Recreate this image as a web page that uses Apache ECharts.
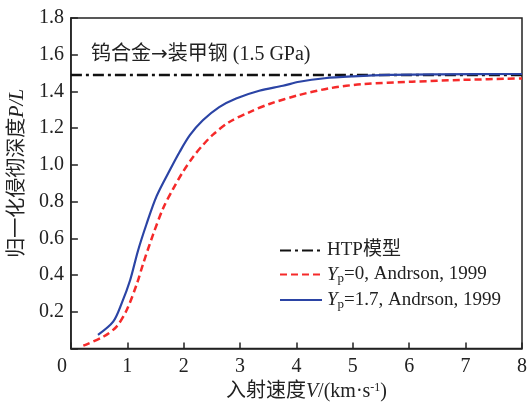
<!DOCTYPE html>
<html>
<head>
<meta charset="utf-8">
<script src="https://cdn.jsdelivr.net/npm/echarts@6/dist/echarts.min.js"></script>
<style>
  html, body { margin: 0; padding: 0; background: #fff; }
  #chart { width: 530px; height: 407px; }
</style>
</head>
<body>
<div id="chart"></div>
<script>
// Impact velocity (km/s) and normalised penetration depth P/L
const htpVel = [0, 8];
const htpDepth = [1.49, 1.49];

const yp0Vel = [0.22, 0.58, 0.81, 0.99, 1.17, 1.28, 1.46, 1.64, 1.81, 1.99, 2.17, 2.34, 2.52, 2.81, 3.17, 3.52, 4.05, 4.6, 5.17, 6.05, 6.94, 8.0];
const yp0Depth = [0.016, 0.066, 0.12, 0.21, 0.353, 0.461, 0.623, 0.767, 0.868, 0.964, 1.045, 1.108, 1.165, 1.234, 1.288, 1.332, 1.381, 1.418, 1.44, 1.453, 1.463, 1.471];

const yp17Vel = [0.48, 0.75, 0.90, 1.05, 1.19, 1.34, 1.52, 1.76, 1.93, 2.11, 2.34, 2.63, 2.93, 3.34, 3.76, 4.05, 4.5, 5.0, 5.64, 6.5, 8.0];
const yp17Depth = [0.075, 0.147, 0.246, 0.372, 0.533, 0.677, 0.83, 0.975, 1.072, 1.162, 1.243, 1.315, 1.362, 1.404, 1.431, 1.453, 1.472, 1.482, 1.49, 1.493, 1.495];

const xTicks = [0, 1, 2, 3, 4, 5, 6, 7, 8];
const yTicks = [0, 0.2, 0.4, 0.6, 0.8, 1.0, 1.2, 1.4, 1.6, 1.8];

const seriesNames = ['HTP模型', 'Yp=0, Andrson, 1999', 'Yp=1.7, Andrson, 1999'];
const titleParts = ['钨合金', '→', '装甲钢 (1.5 GPa)'];

const FONT = '"Liberation Serif", "Times New Roman", "Noto Sans CJK SC", serif';
const FS = 20;
const LFS = 19;
const INK = '#222';

function pairs(xs, ys) { return xs.map((x, i) => [x, ys[i]]); }

const chart = echarts.init(document.getElementById('chart'));
chart.setOption({
  animation: false,
  backgroundColor: '#fff',
  title: {
    text: titleParts[0] + '{a|' + titleParts[1] + '}' + titleParts[2],
    left: 86,
    top: 40,
    textStyle: {
      fontFamily: FONT, fontSize: FS, fontWeight: 'normal', color: INK,
      rich: { a: { fontFamily: '"DejaVu Sans", sans-serif', fontSize: FS, color: INK } }
    }
  },
  legend: {
    orient: 'vertical',
    left: 274,
    top: 236,
    itemWidth: 42,
    itemHeight: 14,
    itemGap: 5,
    itemStyle: { opacity: 0 },
    textStyle: {
      fontFamily: FONT, fontSize: LFS, color: INK,
      rich: {
        i: { fontFamily: FONT, fontSize: LFS, fontStyle: 'italic', color: INK },
        sub: { fontFamily: FONT, fontSize: 13, color: INK, verticalAlign: 'bottom', padding: [9, 0, 0, 0] },
        t: { fontFamily: FONT, fontSize: LFS, color: INK }
      }
    },
    formatter: function (name) {
      if (name.indexOf('Yp=') === 0) {
        return '{i|Y}{sub|p}{t|' + name.slice(2) + '}';
      }
      return name;
    },
    data: seriesNames
  },
  grid: {
    left: 70.7, right: 6.5, top: 18, bottom: 54.7,
    show: true, borderColor: INK, borderWidth: 1.5, containLabel: false
  },
  xAxis: {
    type: 'value',
    min: 0, max: 8, interval: 1,
    name: '入射速度{i|V}/(km·s{sup|-1})',
    nameLocation: 'middle',
    nameGap: 30,
    nameTextStyle: {
      fontFamily: FONT, fontSize: FS, color: INK, padding: [0, 0, 0, 20],
      rich: {
        i: { fontFamily: FONT, fontSize: FS, fontStyle: 'italic', color: INK },
        sup: { fontFamily: FONT, fontSize: 12, color: INK, verticalAlign: 'top', padding: [0, 0, 9, 0] }
      }
    },
    axisLine: { show: true, lineStyle: { color: INK, width: 1.5 } },
    axisTick: { show: true, inside: true, length: 6, lineStyle: { color: INK, width: 1.5 } },
    axisLabel: {
      fontFamily: FONT, fontSize: FS, color: INK, margin: 8,
      formatter: function (v) { return v === 0 ? '{z|0}' : String(v); },
      rich: { z: { fontFamily: FONT, fontSize: FS, color: INK, padding: [0, 18, 0, 0] } }
    },
    splitLine: { show: false }
  },
  yAxis: {
    type: 'value',
    min: 0, max: 1.8, interval: 0.2,
    name: '归一化侵彻深度{i|P/L}',
    nameLocation: 'middle',
    nameGap: 41,
    nameRotate: 90,
    nameTextStyle: {
      fontFamily: FONT, fontSize: FS, color: INK, padding: [0, 0, 0, 20],
      rich: { i: { fontFamily: FONT, fontSize: FS, fontStyle: 'italic', color: INK } }
    },
    axisLine: { show: true, lineStyle: { color: INK, width: 1.5 } },
    axisTick: { show: true, inside: true, length: 7, lineStyle: { color: INK, width: 1.5 } },
    axisLabel: {
      fontFamily: FONT, fontSize: FS, color: INK, margin: 7,
      formatter: function (v) { return v === 0 ? '' : v.toFixed(1); }
    },
    splitLine: { show: false }
  },
  series: [
    {
      name: seriesNames[0], type: 'line', symbol: 'none',
      data: pairs(htpVel, htpDepth),
      lineStyle: { color: '#111', width: 2.5, type: [11, 4, 3, 4] },
      itemStyle: { color: '#111' }, z: 3
    },
    {
      name: seriesNames[1], type: 'line', symbol: 'none', smooth: 0.3,
      data: pairs(yp0Vel, yp0Depth),
      lineStyle: { color: '#f52a2a', width: 2.5, type: [7, 4] },
      itemStyle: { color: '#f52a2a' }, z: 2
    },
    {
      name: seriesNames[2], type: 'line', symbol: 'none', smooth: 0.3,
      data: pairs(yp17Vel, yp17Depth),
      lineStyle: { color: '#2b44a5', width: 2.2 },
      itemStyle: { color: '#2b44a5' }, z: 4
    }
  ]
});
</script>
</body>
</html>
